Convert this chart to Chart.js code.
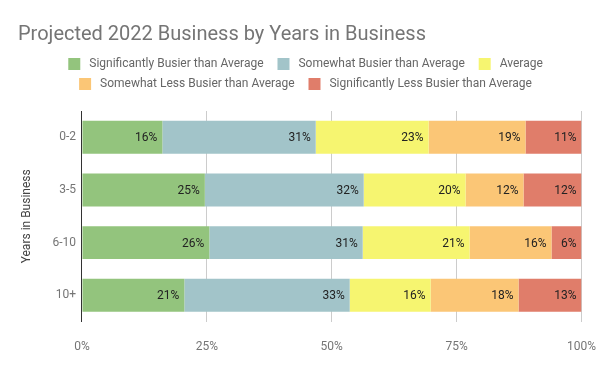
<!DOCTYPE html>
<html>
<head>
<meta charset="utf-8">
<script src="https://cdn.jsdelivr.net/npm/chart.js@4"></script>
<style>
  body { margin: 0; background: #fff; }
  #wrap { width: 600px; height: 371px; }
</style>
</head>
<body>
<div id="wrap"><canvas id="grafico" width="600" height="371"></canvas></div>
<script>
const categorias = ['0-2', '3-5', '6-10', '10+'];
const nomesSeries = [
  'Significantly Busier than Average',
  'Somewhat Busier than Average',
  'Average',
  'Somewhat Less Busier than Average',
  'Significantly Less Busier than Average'
];
const sigBusier = [16.1, 24.6, 25.5, 20.5];
const someBusier = [30.7, 31.8, 30.7, 33.1];
const media = [22.6, 20.4, 21.4, 16.2];
const someLess = [19.4, 11.6, 16.4, 17.6];
const sigLess = [11.2, 11.6, 6.0, 12.6];
const ticksX = ['0%', '25%', '50%', '75%', '100%'];

const cores = ['#93c47d', '#a2c4c9', '#f6f570', '#fbc676', '#e07d6a'];
const valores = [sigBusier, someBusier, media, someLess, sigLess];

// rotulos de porcentagem no fim de cada segmento
const rotulos = {
  id: 'rotulos',
  beforeInit(chart) {
    // espaco extra entre legenda e grafico
    const fitOrig = chart.legend.fit;
    chart.legend.fit = function () {
      fitOrig.call(this);
      this.height += 11;
    };
  },
  afterDatasetsDraw(chart) {
    const ctx = chart.ctx;
    ctx.save();
    ctx.font = '12px Roboto';
    ctx.fillStyle = '#222';
    ctx.textAlign = 'right';
    ctx.textBaseline = 'middle';
    chart.data.datasets.forEach((ds, i) => {
      chart.getDatasetMeta(i).data.forEach((bar, j) => {
        ctx.fillText(Math.round(ds.data[j]) + '%', bar.x - 5, bar.y + 1);
      });
    });
    ctx.restore();
  }
};

new Chart(document.getElementById('grafico'), {
  type: 'bar',
  data: {
    labels: categorias,
    datasets: valores.map((v, i) => ({
      label: nomesSeries[i],
      data: v,
      backgroundColor: cores[i],
      barPercentage: 1,
      categoryPercentage: 0.625
    }))
  },
  options: {
    indexAxis: 'y',
    responsive: false,
    animation: false,
    layout: { padding: { left: 18, right: 1, top: 23, bottom: 13 } },
    plugins: {
      title: {
        display: true,
        text: 'Projected 2022 Business by Years in Business',
        align: 'start',
        color: '#757575',
        font: { family: 'Roboto', size: 20, weight: 'normal' },
        padding: { top: 0, bottom: 3 }
      },
      legend: {
        position: 'top',
        labels: {
          color: '#666',
          font: { family: 'Roboto', size: 12 },
          boxWidth: 12,
          boxHeight: 12,
          padding: 8,
          generateLabels(chart) {
            const itens = Chart.defaults.plugins.legend.labels.generateLabels(chart);
            itens.forEach(it => { it.text = ' ' + it.text + '  '; });
            return itens;
          }
        }
      },
      tooltip: { enabled: false }
    },
    scales: {
      x: {
        stacked: true,
        min: 0,
        max: 100,
        grid: { color: '#ccc', drawTicks: true, tickLength: 14, tickColor: 'rgba(0,0,0,0)' },
        border: { display: false },
        ticks: {
          stepSize: 25,
          padding: 4,
          color: '#757575',
          font: { family: 'Roboto', size: 12 },
          callback: (v, i) => ticksX[i]
        }
      },
      y: {
        stacked: true,
        grid: { display: false, drawTicks: false },
        border: { color: '#333', width: 1 },
        ticks: {
          padding: 6,
          color: '#757575',
          font: { family: 'Roboto', size: 12 }
        },
        title: {
          display: true,
          text: 'Years in Business',
          color: '#444',
          font: { family: 'Roboto', size: 12 },
          padding: { top: 2, bottom: 12 }
        }
      }
    }
  },
  plugins: [rotulos]
});
</script>
</body>
</html>
